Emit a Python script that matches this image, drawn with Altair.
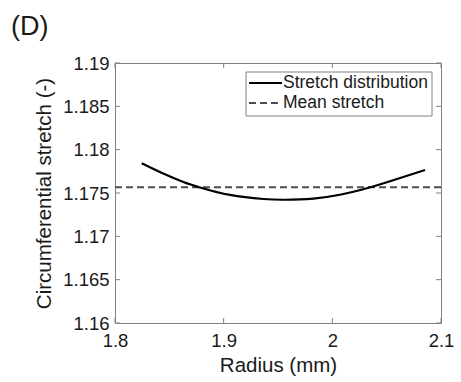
import altair as alt
import pandas as pd

FONT = "Liberation Sans"

# data
radius = [1.8246, 1.8444, 1.8629, 1.8798, 1.9058, 1.9365, 1.9560, 1.9825, 2.0070, 2.0285, 2.0531, 2.0853]
stretch = [1.17843, 1.17724, 1.17627, 1.17558, 1.17478, 1.17431, 1.17422, 1.17436, 1.17480, 1.17543, 1.17636, 1.17765]
mean_r = [1.8, 2.1]
mean_val = [1.17566, 1.17566]
x_ticks = [1.8, 1.9, 2.0, 2.1]
y_ticks = [1.16, 1.165, 1.17, 1.175, 1.18, 1.185, 1.19]
legend_labels = ["Stretch distribution", "Mean stretch"]
panel_label = ["(D)"]

W, H = 326, 260

xs = alt.Scale(domain=[1.8, 2.1], nice=False, zero=False)
ys = alt.Scale(domain=[1.16, 1.19], nice=False, zero=False)

curve_df = pd.DataFrame({"r": radius, "s": stretch})
mean_df = pd.DataFrame({"r": mean_r, "s": mean_val})

x_axis = alt.Axis(values=x_ticks, format="~g", title="Radius (mm)", grid=False, domain=False,
                  tickSize=0, labelPadding=8, labelFlush=False, labelOverlap=False,
                  labelFontSize=18.5, titleFontSize=20.5, titlePadding=6,
                  labelColor="#1a1a1a", titleColor="#1a1a1a", labelFont=FONT, titleFont=FONT,
                  titleFontWeight="normal")
y_axis = alt.Axis(values=y_ticks, format="~g", title="Circumferential stretch (-)", grid=False,
                  domain=False, tickSize=0, labelPadding=6, labelFlush=False, labelOverlap=False,
                  labelFontSize=18.5, titleFontSize=20.5, titlePadding=8,
                  labelColor="#1a1a1a", titleColor="#1a1a1a", labelFont=FONT, titleFont=FONT,
                  titleFontWeight="normal")

curve = alt.Chart(curve_df).mark_line(color="black", strokeWidth=2.2, interpolate="natural").encode(
    x=alt.X("r:Q", scale=xs, axis=x_axis),
    y=alt.Y("s:Q", scale=ys, axis=y_axis),
)
mean = alt.Chart(mean_df).mark_line(color="#4d4d4d", strokeWidth=2, strokeDash=[7, 4]).encode(
    x=alt.X("r:Q", scale=xs),
    y=alt.Y("s:Q", scale=ys),
)

ytick_df = pd.DataFrame({"v": y_ticks})
xtick_df = pd.DataFrame({"v": x_ticks})
tick_color = "#808080"
yt_left = alt.Chart(ytick_df).mark_rule(color=tick_color).encode(
    y=alt.Y("v:Q", scale=ys), x=alt.value(0), x2=alt.value(5))
yt_right = alt.Chart(ytick_df).mark_rule(color=tick_color).encode(
    y=alt.Y("v:Q", scale=ys), x=alt.value(W - 5), x2=alt.value(W))
xt_bot = alt.Chart(xtick_df).mark_rule(color=tick_color).encode(
    x=alt.X("v:Q", scale=xs), y=alt.value(H - 5), y2=alt.value(H))
xt_top = alt.Chart(xtick_df).mark_rule(color=tick_color).encode(
    x=alt.X("v:Q", scale=xs), y=alt.value(0), y2=alt.value(5))

# manual legend
leg_box = alt.Chart(pd.DataFrame({"a": [0]})).mark_rect(
    fill="white", stroke="#808080", strokeWidth=1).encode(
    x=alt.value(131), x2=alt.value(317), y=alt.value(9), y2=alt.value(53))
leg_line1 = alt.Chart(pd.DataFrame({"a": [0]})).mark_rule(color="black", strokeWidth=2.2).encode(
    x=alt.value(134), x2=alt.value(167), y=alt.value(20))
leg_line2 = alt.Chart(pd.DataFrame({"a": [0]})).mark_rule(
    color="#4d4d4d", strokeWidth=2, strokeDash=[7, 4]).encode(
    x=alt.value(134), x2=alt.value(167), y=alt.value(40))
leg_t1 = alt.Chart(pd.DataFrame({"t": [legend_labels[0]]})).mark_text(
    align="left", baseline="middle", font=FONT, fontSize=17.5, color="#1a1a1a").encode(
    text="t:N", x=alt.value(168), y=alt.value(20))
leg_t2 = alt.Chart(pd.DataFrame({"t": [legend_labels[1]]})).mark_text(
    align="left", baseline="middle", font=FONT, fontSize=17.5, color="#1a1a1a").encode(
    text="t:N", x=alt.value(168), y=alt.value(40))

panel = alt.Chart(pd.DataFrame({"t": panel_label})).mark_text(
    align="left", baseline="top", font=FONT, fontSize=27, color="#1a1a1a").encode(
    text="t:N", x=alt.value(-104), y=alt.value(-49))

chart = alt.layer(
    mean, curve, yt_left, yt_right, xt_bot, xt_top,
    leg_box, leg_line1, leg_line2, leg_t1, leg_t2, panel
).properties(
    width=W, height=H,
    autosize=alt.AutoSizeParams(type="none"),
    padding={"left": 115, "top": 63, "right": 20, "bottom": 59},
    background="white",
).configure_view(stroke="#808080", strokeWidth=1)

chart.save("out.html", embed_options={"renderer": "svg", "actions": False})
